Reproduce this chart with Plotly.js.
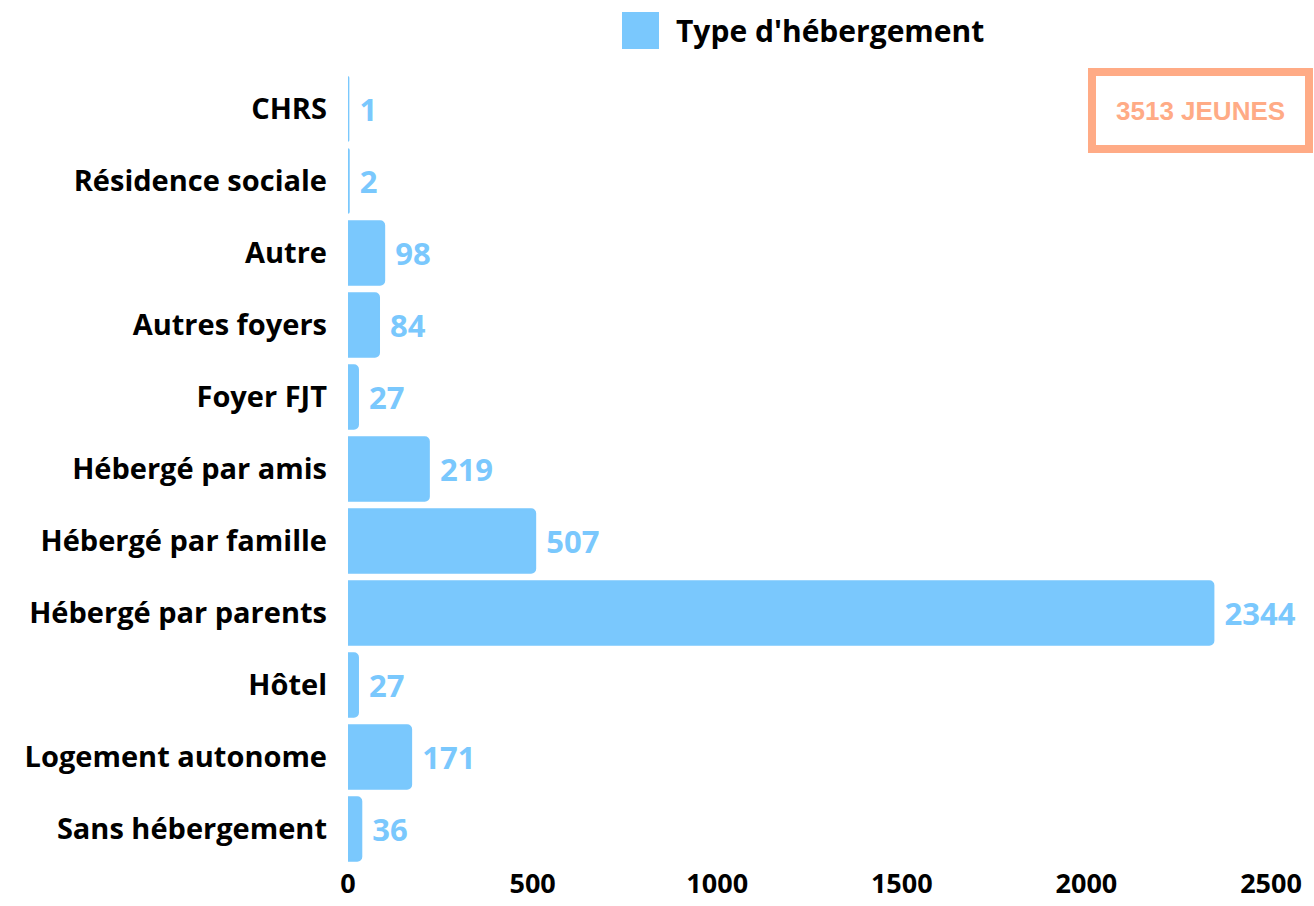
<!DOCTYPE html>
<html>
<head>
<meta charset="utf-8">
<script src="https://cdn.plot.ly/plotly-3.0.1.min.js"></script>
<style>
  html, body { margin: 0; padding: 0; background: white; }
  #chart { width: 1314px; height: 906px; }
</style>
</head>
<body>
<div id="chart"></div>
<script>
// Hébergement des jeunes — one horizontal bar per type, labels outside.
const categories = [
  "CHRS", "Résidence sociale", "Autre", "Autres foyers", "Foyer FJT",
  "Hébergé par amis", "Hébergé par famille", "Hébergé par parents",
  "Hôtel", "Logement autonome", "Sans hébergement",
];
const counts = [1, 2, 98, 84, 27, 219, 507, 2344, 27, 171, 36];
const seriesName = "Type d'hébergement";
const totalLabel = "3513 JEUNES";
const xTicks = [0, 500, 1000, 1500, 2000, 2500];

const BLUE = "#7ac8fd";
const SALMON = "#ffab86";
const FONT = "Open Sans, sans-serif";

// plot area in px, used to place the hand-made legend and the total box
const L = 348, R = 1271, T = 73, B = 865;
const px = (x) => (x - L) / (R - L);
const py = (y) => (B - y) / (B - T);

const traces = [{
  type: "bar",
  orientation: "h",
  y: categories,
  x: counts,
  name: seriesName,
  marker: { color: BLUE, cornerradius: 4, line: { color: BLUE, width: 2 } },
  text: counts.map((v) => "\u00a0" + v),
  textposition: "outside",
  cliponaxis: false,
  textfont: { family: FONT, size: 31, color: BLUE, weight: 700 },
  showlegend: false,
}];

const layout = {
  width: 1314,
  height: 906,
  margin: { t: T, r: 1314 - R, b: 906 - B, l: L },
  paper_bgcolor: "white",
  plot_bgcolor: "white",
  bargap: 0.12,
  font: { family: FONT, color: "#000" },
  xaxis: {
    range: [0, 2500],
    tickvals: xTicks,
    ticktext: xTicks.map(String),
    showgrid: false,
    zeroline: false,
    showline: false,
    ticks: "",
    ticklabelstandoff: 0,
    tickfont: { family: FONT, size: 27, color: "#000", weight: 700 },
  },
  yaxis: {
    autorange: "reversed",
    showgrid: false,
    zeroline: false,
    showline: false,
    ticks: "",
    ticklabelstandoff: 20,
    tickfont: { family: FONT, size: 29, color: "#000", weight: 700 },
  },
  shapes: [
    // legend swatch, drawn by hand so it can be as large as the original
    {
      type: "rect", xref: "paper", yref: "paper",
      x0: px(622), x1: px(659), y0: py(49), y1: py(12),
      fillcolor: BLUE, line: { width: 0 },
    },
    // frame of the total box
    {
      type: "rect", xref: "paper", yref: "paper",
      x0: px(1092), x1: px(1309), y0: py(149), y1: py(72),
      fillcolor: "white", line: { color: SALMON, width: 8 },
    },
  ],
  annotations: [
    {
      xref: "paper", yref: "paper",
      x: px(674), y: py(30),
      xanchor: "left", yanchor: "middle",
      text: seriesName, showarrow: false,
      font: { family: FONT, size: 30, color: "#000", weight: 700 },
    },
    {
      xref: "paper", yref: "paper",
      x: px(1200), y: py(111),
      xanchor: "center", yanchor: "middle",
      text: totalLabel, showarrow: false,
      font: { family: "Liberation Sans, Arial, sans-serif", size: 26, color: SALMON, weight: 700 },
    },
  ],
};

Plotly.newPlot("chart", traces, layout, { displayModeBar: false, staticPlot: true });
</script>
</body>
</html>
